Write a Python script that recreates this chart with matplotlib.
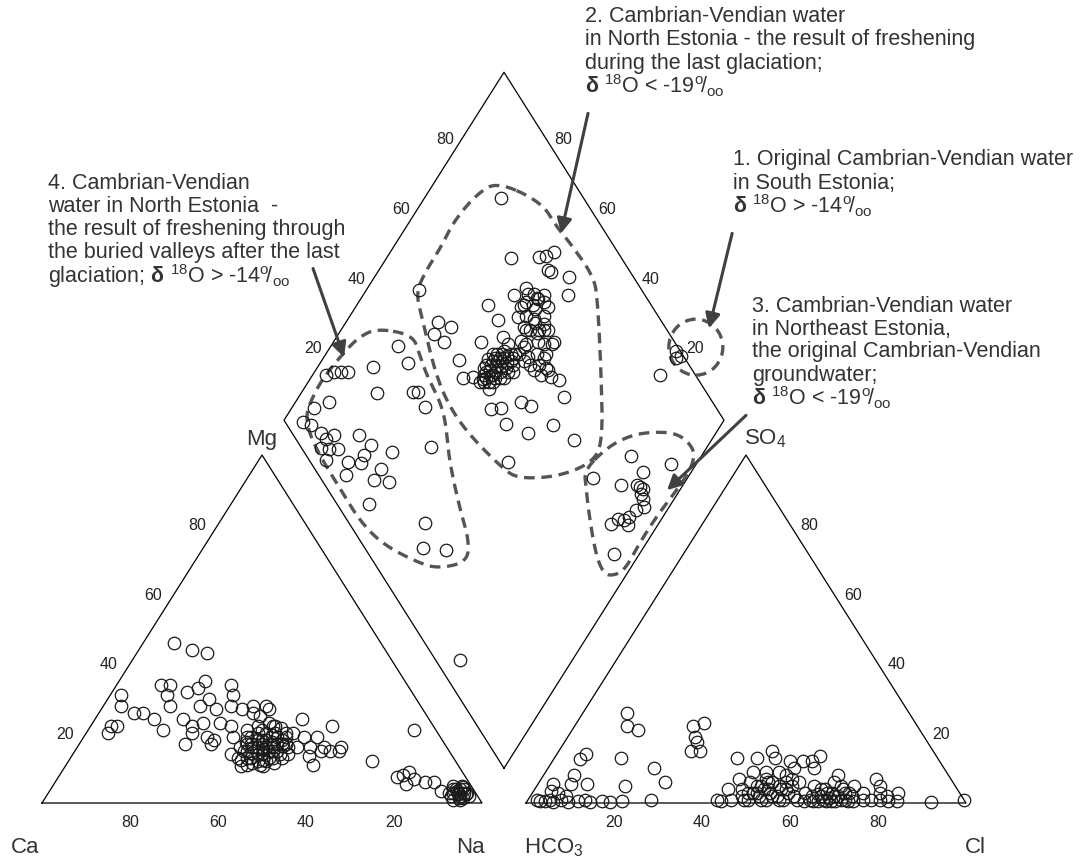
import numpy as np
import matplotlib
matplotlib.use("Agg")
import matplotlib.pyplot as plt
from matplotlib.patches import Ellipse

plt.rcParams['font.family'] = ['Liberation Sans', 'DejaVu Sans']
plt.rcParams['mathtext.fontset'] = 'custom'
plt.rcParams['mathtext.rm'] = 'Liberation Sans'
plt.rcParams['mathtext.it'] = 'Liberation Sans:italic'
plt.rcParams['mathtext.bf'] = 'Liberation Sans:bold'

# ---------------- data (meq %) ----------------
# Cation triangle: Na(+K) %, Mg %   (Ca = 100 - Na - Mg)
cation_na = [7, 12, 16, 2.5, 4, 8, 10, 13.5, 17, 4.6, 6, 5, 10, 12, 13, 15, 17, 19.5, 19, 23, 22, 26, 26, 28, 29,
             20, 23, 25, 29, 24, 24, 28, 30, 30, 32, 34, 36, 32, 34, 37, 35, 37, 38,
             36, 37, 38, 38, 39, 39, 40, 40, 40, 41, 41, 42, 42, 42, 43, 43, 44, 44, 45, 45, 46, 46, 47, 47,
             43, 41, 39, 44, 40, 42, 41, 43, 45, 38, 37,
             37.5, 38.5, 39.5, 40.5, 41.5, 42.5, 43.5, 44.5, 45.5, 46.5, 39, 40, 41, 42, 43, 44, 45, 46, 47,
             48, 48, 49, 38, 39.5, 41.5, 43.5, 45.5, 46, 44, 42.5,
             47, 55, 60, 56, 47, 50, 53, 56, 60, 50, 53, 56, 58, 54, 45,
             74, 69,
             78, 79, 80, 77, 81, 84, 86, 89, 91, 92, 93, 94, 92, 93, 95, 94, 91, 95, 96, 93,
             92.5, 93.5, 94.5, 92, 93, 94, 95, 93.5, 91.5, 94.5]
cation_mg = [46, 44, 43, 31, 28, 26, 26, 24, 21, 22, 22, 20, 34, 34, 31, 28, 32, 35, 33, 30, 28, 27, 34, 31, 28,
             24, 22, 23, 23, 20, 17, 19, 18, 17, 22, 19, 14, 27, 28, 28, 26, 25, 27,
             21, 19, 17, 22, 20, 15, 18, 23, 13, 16, 20, 18, 14, 22, 16, 12, 19, 15, 17, 13, 15, 19, 14, 17,
             20, 11, 17, 11, 16, 16, 18, 14, 15, 19, 16,
             17.5, 15, 18.5, 14.5, 17, 19.5, 17.5, 16, 18, 16.5, 12.5, 10.5, 13, 11.5, 14.5, 12.5, 10.5, 13, 11.5,
             13, 16, 14, 13, 21, 22, 21.5, 20, 17, 17, 15.5,
             24, 22, 16, 11, 20, 19, 19, 16, 15, 16, 16, 15, 15, 13.5, 12,
             21, 12,
             8, 9, 5.5, 7.5, 7, 6, 6, 3.5, 5, 4, 3, 2, 2, 5, 3, 4, 3, 1.5, 2, 1,
             3.5, 2.5, 3, 3, 4, 1.5, 2.5, 4.5, 4, 1]

# Anion triangle: Cl %, SO4 %   (HCO3 = 100 - Cl - SO4)
anion_cl = [10, 12, 15, 27, 29, 29, 30, 30, 32, 15, 24, 28.5, 20, 28, 6.6, 6, 7, 7.5, 11, 3.3,
            3, 5, 6, 7.5, 9.5, 11.5, 13, 14.5, 17, 19, 21.5, 5.7, 4, 2, 4, 8,
            41.5, 46, 48.5, 50, 54, 57, 59, 60, 60.5, 67, 76, 78, 83, 92, 99,
            46, 47, 48, 48, 49, 50, 50, 51, 52, 52, 53, 53, 54, 55, 55, 56, 57, 57, 58, 58, 59, 60, 44, 45, 47,
            50, 53, 56, 43, 44,
            49, 51, 52, 54, 55, 56, 57, 50, 53, 56, 58, 51,
            61, 62, 63, 63, 64, 65, 65, 66, 67, 67, 68, 68, 69, 70, 70, 71, 72, 72, 73, 74, 75, 76, 78, 80,
            81, 82, 84, 79,
            64, 65, 66, 67, 68, 69, 70, 71, 72, 73, 66, 69]
anion_so4 = [26, 22, 21, 22, 23, 19, 17.5, 15, 15, 13, 10, 6, 5, 1, 14, 12.7, 8, 5.5, 5.5, 5.5,
             0.5, 1, 0.3, 1, 0.3, 0.5, 1, 0.3, 0.5, 0.3, 0.5, 3, 3.5, 1, 0.5, 2,
             13, 13, 15, 13, 12, 12, 12, 13.5, 10, 8, 7, 5, 3, 0.3, 1,
             1, 4, 2, 6, 3, 1, 5, 7, 2, 4, 6, 1, 3, 5, 8, 2, 4, 7, 1, 3, 6, 2, 4, 7, 9,
             9, 9, 10, 1, 0.5,
             1, 3, 6, 1, 2, 6, 1, 3, 4, 4, 5, 5,
             1, 3, 0.5, 5, 2, 4, 0.5, 2, 6, 1, 3, 0.5, 5, 2, 0.5, 3, 1, 5, 2, 0.5, 3, 1, 1, 1,
             2, 0.5, 0.5, 3,
             1, 2.5, 4, 3, 1.5, 2, 4, 1, 3, 0.5, 0.5, 0.5]

# Diamond: (SO4+Cl) %, (Ca+Mg) %
diamond_so4cl = [16.0, 18.4, 19.9, 21.4, 12.9, 8.6, 4.0, 5.4, 6.5, 9.3, 6.9, 4.4, 6.2, 8.1, 3.8, 8.5, 15.0, 16.2,
                 13.2, 11.3, 6.2, 15.1, 11.9, 15.1, 20.0, 7.4, 27.8, 24.9, 36.5, 36.3, 33.3, 34.5, 34.0, 29.6,
                 17.3, 13.1, 18.1,
                 81.2, 74.8, 81.4, 83.1, 85.6, 81.5, 82.0, 85.4, 82.4, 49.4, 62.8, 62.9, 70.3, 73.6, 75.1, 75.1,
                 70.1, 73.0, 76.2, 67.9, 71.5, 73.0, 68.0, 49.0, 51.3, 46.6, 47.7, 56.0, 61.7, 65.3, 68.9, 72.7,
                 48.5, 46.6, 49.1, 51.1, 64.5, 64.1, 67.1, 66.9, 68.3, 67.0, 56.4, 58.2, 48.7, 51.0, 49.9, 60.4,
                 53.5, 63.1, 44.8,
                 50, 52, 53, 54, 55, 56, 57, 58, 59, 60, 57, 55, 53, 58, 60, 61, 62, 56, 54, 51, 59, 62, 63, 58,
                 51, 52, 53.5, 54, 55, 56, 57, 58, 59, 60, 61, 55, 53, 57, 59, 56, 54, 52, 58, 60,
                 63, 65, 66, 68, 68, 70, 70, 72, 72, 74, 75, 67, 69, 71, 73, 76, 69, 71, 66, 64, 74, 72, 65, 67,
                 71, 73, 77, 70,
                 73.7, 74.1, 81.7, 61.8, 67.3, 70.6, 70.3, 69.4, 67.1, 64.6, 63.0, 61.7, 59.5, 63.0, 55.9,
                 70.8, 71.3, 71.8,
                 99, 98, 99.5, 92,
                 5.5]
diamond_camg = [96.9, 95.5, 94.0, 92.5, 92.4, 94.8, 95.5, 93.2, 89.7, 86.4, 87.8, 87.5, 85.6, 83.7, 84.7, 79.5,
                80.7, 76.6, 76.7, 76.3, 78.0, 71.0, 70.9, 67.2, 70.9, 68.6, 87.5, 82.8, 84.8, 80.1, 74.8, 73.7,
                69.8, 62.8, 53.1, 50.1, 44.5,
                82.6, 71.7, 65.4, 64.0, 62.8, 61.6, 60.6, 55.7, 53.5, 87.9, 70.2, 65.8, 65.6, 62.8, 61.3, 59.8,
                62.4, 60.0, 56.3, 61.7, 57.7, 54.7, 58.8, 79.2, 75.4, 78.3, 74.8, 66.5, 62.3, 57.6, 53.6, 49.8,
                68.8, 65.4, 63.3, 60.8, 53.7, 50.3, 47.2, 45.5, 43.2, 39.6, 48.7, 46.0, 54.6, 52.4, 49.0, 38.2,
                42.7, 31.2, 43.2,
                61, 60, 62, 59, 61, 58, 60, 57, 59, 56, 62, 57, 58, 61, 60, 58, 57, 56, 62, 58, 55, 60, 56, 59,
                60, 61, 59.5, 60.5, 59, 61, 58.5, 60, 57.5, 58.5, 57, 62.5, 61, 61, 60, 59.5, 58, 59, 56, 57,
                54, 48, 56, 50, 58, 52, 60, 54, 62, 56, 60, 52, 57, 55, 59, 58, 50, 62, 50, 52, 64, 50, 56, 48,
                57, 53, 59, 55,
                16.0, 11.0, 5.8, 21.5, 14.1, 8.3, 7.2, 5.7, 7.1, 7.6, 8.3, 10.0, 10.8, 6.8, 5.8,
                10.5, 9.5, 8.5,
                21, 20, 19, 21,
                25.5]

# Group outlines in diamond units: (SO4+Cl) %, (Ca+Mg) %
outline2_so4cl = [82.8, 89.8, 89.8, 90.4, 91.1, 88.1, 79.3, 69.1, 63.6, 54.1, 44.7, 42.6, 39.9, 39.6, 41.4,
                  45.9, 48.2, 53.0, 60.6, 67.5, 76.6]
outline2_camg = [85.7, 73.0, 65.4, 61.4, 50.1, 45.5, 35.2, 24.2, 24.0, 29.7, 38.5, 44.0, 56.4, 65.2, 73.0,
                 82.9, 88.2, 89.2, 89.2, 90.0, 88.6]
outline4_so4cl = [34.5, 41.5, 40.3, 39.0, 38.3, 37.5, 35.9, 31.8, 27.4, 24.8, 21.2, 13.7, 10.0, 4.8, 2.8,
                  2.9, 3.0, 3.8, 6.0, 9.9, 14.8, 22.9, 29.1]
outline4_camg = [91.9, 83.0, 78.8, 74.4, 68.4, 65.4, 62.2, 56.7, 47.7, 40.7, 38.0, 43.7, 49.1, 59.3, 67.8,
                 77.0, 85.5, 92.4, 96.0, 96.8, 97.2, 96.2, 94.9]
outline3_so4cl = [61.1, 69.7, 76.7, 82.5, 87.6, 89.1, 87.5, 82.4, 72.8, 63.9, 56.0, 52.7, 50.6, 51.5, 55.5, 58.9]
outline3_camg = [24.6, 22.6, 19.0, 14.2, 8.6, 3.3, 1.0, 0.4, 1.4, 1.6, 1.0, 2.7, 5.1, 9.7, 16.7, 21.6]
outline1_center = (104.1, 16.9)

tick_values = [20, 40, 60, 80]

# annotation texts
text2 = ["2. Cambrian-Vendian water", "in North Estonia - the result of freshening",
         "during the last glaciation;", r"$\mathbf{δ}$ $^{18}$O < -19$^{\mathrm{o}}\!/_{\mathrm{oo}}$"]
text1 = ["1. Original Cambrian-Vendian water", "in South Estonia;",
         r"$\mathbf{δ}$ $^{18}$O > -14$^{\mathrm{o}}\!/_{\mathrm{oo}}$"]
text4 = ["4. Cambrian-Vendian", "water in North Estonia  -", "the result of freshening through",
         "the buried valleys after the last",
         r"glaciation; $\mathbf{δ}$ $^{18}$O > -14$^{\mathrm{o}}\!/_{\mathrm{oo}}$"]
text3 = ["3. Cambrian-Vendian water", "in Northeast Estonia,", "the original Cambrian-Vendian",
         "groundwater;", r"$\mathbf{δ}$ $^{18}$O < -19$^{\mathrm{o}}\!/_{\mathrm{oo}}$"]

# ---------------- geometry ----------------
G = 0.1
H = np.sqrt(3) / 2


def cat_xy(na, mg):
    na = np.asarray(na, float); mg = np.asarray(mg, float)
    return (na + mg / 2) / 100, H * mg / 100


def an_xy(cl, so4):
    cl = np.asarray(cl, float); so4 = np.asarray(so4, float)
    return 1 + G + (cl + so4 / 2) / 100, H * so4 / 100


def dia_xy(t, s):
    t = np.asarray(t, float); s = np.asarray(s, float)
    return 1 + G / 2 + 0.5 * (t - s) / 100, H * (G + (t + s) / 100)


def chaikin(x, y, n=3):
    P = np.column_stack([x, y])
    for _ in range(n):
        Q = 0.75 * P + 0.25 * np.roll(P, -1, axis=0)
        R = 0.25 * P + 0.75 * np.roll(P, -1, axis=0)
        P = np.empty((2 * len(Q), 2))
        P[0::2] = Q
        P[1::2] = R
    P = np.vstack([P, P[:1]])
    return P[:, 0], P[:, 1]


W, HP = 1082, 862
fig = plt.figure(figsize=(W / 100, HP / 100), dpi=100)
ax = fig.add_axes([0, 0, 1, 1])
SX, SY = 440.0, 401.8
ax.set_xlim(-42 / SX, (W - 42) / SX)
ax.set_ylim(-(HP - 804) / SY, 804 / SY)
ax.axis('off')

lc = 'black'
lw = 0.9
# frames
ax.plot([0, 1, 0.5, 0], [0, 0, H, 0], color=lc, lw=lw)
ax.plot([1 + G, 2 + G, 1.5 + G, 1 + G], [0, 0, H, 0], color=lc, lw=lw)
dx, dy = dia_xy([0, 100, 100, 0, 0], [0, 0, 100, 100, 0])
ax.plot(dx, dy, color=lc, lw=lw)

# outlines
dash_c = '#555555'
for ot, os_ in [(outline2_so4cl, outline2_camg), (outline4_so4cl, outline4_camg),
                (outline3_so4cl, outline3_camg)]:
    ox, oy = dia_xy(ot, os_)
    sx_, sy_ = chaikin(ox, oy)
    ax.plot(sx_, sy_, color=dash_c, lw=2.4, ls=(0, (3.2, 2.0)), zorder=2)
cx, cy = dia_xy(*outline1_center)
ax.add_patch(Ellipse((cx, cy), 54 / SX, 56 / SY, fill=False, ec=dash_c, lw=2.4, ls=(0, (3.2, 2.0)), zorder=2))

# points
mk = dict(marker='o', ls='none', ms=9, mfc='none', mec='#1a1a1a', mew=0.9, zorder=3)
x, y = cat_xy(cation_na, cation_mg)
ax.plot(x, y, **mk)
x, y = an_xy(anion_cl, anion_so4)
ax.plot(x, y, **mk)
x, y = dia_xy(diamond_so4cl, diamond_camg)
ax.plot(x, y, **mk)

PT = 72 / 100  # px -> points
tcol = '#222222'
tfs = 11.5
for v in tick_values:
    ax.annotate(str(v), cat_xy(100 - v, 0), xytext=(0, -19 * PT), textcoords='offset points',
                ha='center', va='center', fontsize=tfs, color=tcol)
    ax.annotate(str(v), cat_xy(0, v), xytext=(-21 * PT, 0), textcoords='offset points',
                ha='center', va='center', fontsize=tfs, color=tcol)
    ax.annotate(str(v), an_xy(v, 0), xytext=(0, -19 * PT), textcoords='offset points',
                ha='center', va='center', fontsize=tfs, color=tcol)
    ax.annotate(str(v), an_xy(100 - v, v), xytext=(19 * PT, 0), textcoords='offset points',
                ha='center', va='center', fontsize=tfs, color=tcol)
    ax.annotate(str(v), dia_xy(v, 100), xytext=(-15 * PT, 3 * PT), textcoords='offset points',
                ha='center', va='center', fontsize=tfs, color=tcol)
    ax.annotate(str(v), dia_xy(100, v), xytext=(15 * PT, 3 * PT), textcoords='offset points',
                ha='center', va='center', fontsize=tfs, color=tcol)

# corner labels
lfs = 16
lab = '#333333'
ax.annotate('Mg', cat_xy(0, 100), xytext=(0, 17 * PT), textcoords='offset points',
            ha='center', va='center', fontsize=lfs, color=lab)
ax.annotate('Ca', cat_xy(0, 0), xytext=(-17 * PT, -44 * PT), textcoords='offset points',
            ha='center', va='center', fontsize=lfs, color=lab)
ax.annotate('Na', cat_xy(100, 0), xytext=(-12 * PT, -44 * PT), textcoords='offset points',
            ha='center', va='center', fontsize=lfs, color=lab)
ax.annotate(r'HCO$_3$', an_xy(0, 0), xytext=(-2 * PT, -44 * PT), textcoords='offset points',
            ha='left', va='center', fontsize=lfs, color=lab)
ax.annotate('Cl', an_xy(100, 0), xytext=(9 * PT, -44 * PT), textcoords='offset points',
            ha='center', va='center', fontsize=lfs, color=lab)
ax.annotate(r'SO$_4$', an_xy(0, 100), xytext=(19 * PT, 17 * PT), textcoords='offset points',
            ha='center', va='center', fontsize=lfs, color=lab)

# annotation texts
afs = 15.5
acol = '#333333'


def block(lines, x0, y0, step=23):
    for i, s in enumerate(lines):
        fig.text(x0 / W, 1 - (y0 + i * step) / HP, s, ha='left', va='center', fontsize=afs, color=acol)


block(text2, 585, 17)
block(text1, 733, 160)
block(text4, 48, 184)
block(text3, 752, 306)

# arrows (start -> tip, diamond units)
arrows = [((113.2, 75.0), (89.8, 63.9)), ((128.7, 25.0), (109.8, 16.6)),
          ((28.4, 115.2), (22.7, 95.4)), ((105.7, -4.3), (77.0, 2.9))]
for (st, tip) in arrows:
    ax.annotate('', xy=dia_xy(*tip), xytext=dia_xy(*st),
                arrowprops=dict(arrowstyle='-|>', lw=2.2, color='#404040', mutation_scale=22,
                                shrinkA=0, shrinkB=0), zorder=4)

fig.savefig('out.png', dpi=100)
